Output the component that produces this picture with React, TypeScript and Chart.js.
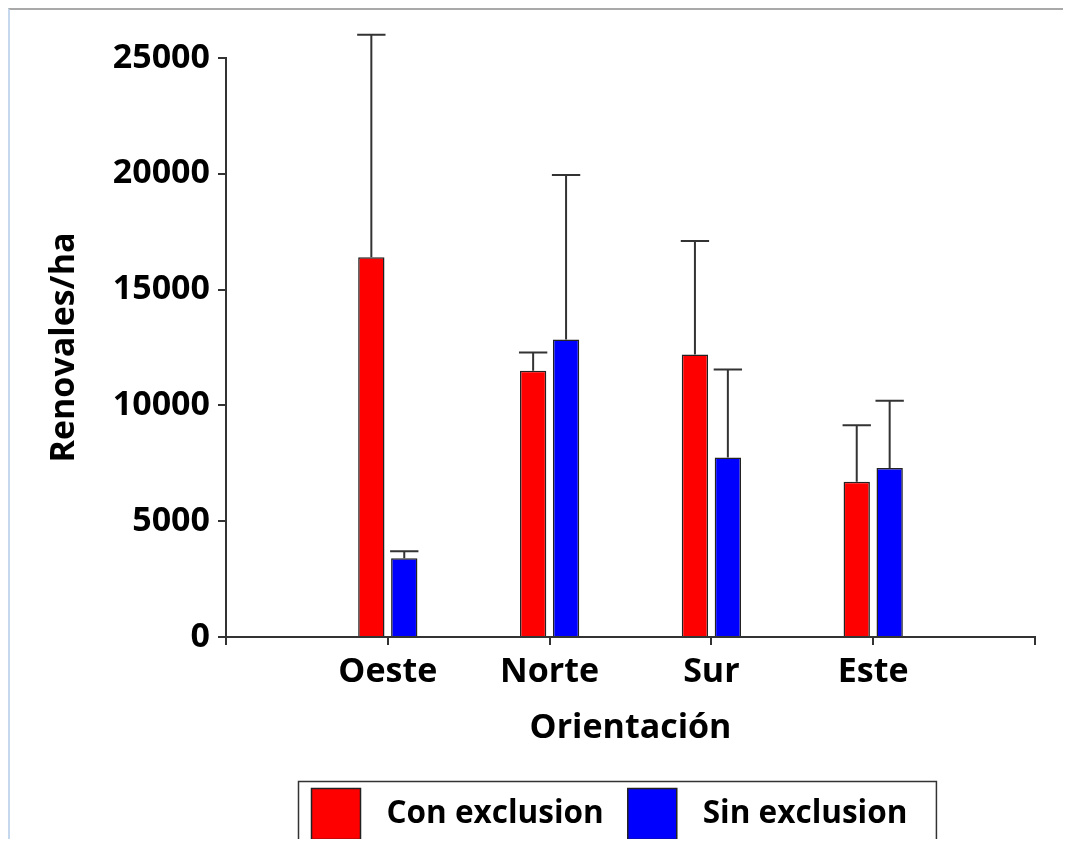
import React, { useEffect, useRef } from "react";
import { Chart, registerables } from "chart.js";

Chart.register(...registerables);

const categories = ["Oeste", "Norte", "Sur", "Este"];
const seriesNames = ["Con exclusion", "Sin exclusion"];
const conExclusion = [16400, 11500, 12200, 6700];
const sinExclusion = [3400, 12850, 7750, 7300];
const conExclusionError = [9600, 780, 4900, 2440];
const sinExclusionError = [300, 7100, 3800, 2900];
const yTicks = [0, 5000, 10000, 15000, 20000, 25000];
const xTitle = "Orientación";
const yTitle = "Renovales/ha";

const FONT = "'Open Sans', 'DejaVu Sans', sans-serif";
const AXIS_COLOR = "#333333";

const pad = (arr: (number | string)[], fill: any) => [fill, ...arr, fill];

const errorBarPlugin = {
  id: "errorBars",
  afterDatasetsDraw(chart: any) {
    const ctx = chart.ctx;
    const yScale = chart.scales.y;
    chart.data.datasets.forEach((ds: any, i: number) => {
      const meta = chart.getDatasetMeta(i);
      meta.data.forEach((el: any, j: number) => {
        const v = ds.data[j];
        const e = ds.errors ? ds.errors[j] : null;
        if (v == null || e == null) return;
        const { x, y, width } = el.getProps(["x", "y", "width"], true);
        const top = yScale.getPixelForValue(v + e);
        ctx.save();
        ctx.strokeStyle = AXIS_COLOR;
        ctx.lineWidth = 2;
        ctx.beginPath();
        ctx.moveTo(x, y);
        ctx.lineTo(x, top);
        ctx.moveTo(x - width / 2 - 1, top);
        ctx.lineTo(x + width / 2 + 1, top);
        ctx.stroke();
        ctx.restore();
      });
    });
  },
};

const legendBoxPlugin = {
  id: "legendBox",
  afterDraw(chart: any) {
    const ctx = chart.ctx;
    const ca = chart.chartArea;
    ctx.save();
    ctx.font = `bold 31.5px ${FONT}`;
    const items = chart.data.datasets.map((ds: any) => ({
      label: ds.label,
      color: ds.backgroundColor,
      w: ctx.measureText(ds.label).width,
    }));
    const padL = 13, sw = 49, sh = 51, gapT = 26, gapI = 24, padR = 29;
    let total = padL + padR;
    items.forEach((it: any, k: number) => {
      total += sw + gapT + it.w + (k > 0 ? gapI : 0);
    });
    const cx = (ca.left + ca.right) / 2 - 14;
    const left = Math.round(cx - total / 2) + 0.5;
    const top = ca.bottom + 144.5;
    const h = 65;
    ctx.strokeStyle = AXIS_COLOR;
    ctx.lineWidth = 1.5;
    ctx.fillStyle = "#ffffff";
    ctx.fillRect(left, top, total, h);
    ctx.strokeRect(left, top, total, h);
    const midY = top + h / 2;
    let x = left + padL;
    items.forEach((it: any, k: number) => {
      if (k > 0) x += gapI;
      ctx.fillStyle = it.color;
      ctx.fillRect(x, midY - sh / 2, sw, sh);
      ctx.strokeStyle = "#222222";
      ctx.lineWidth = 1.5;
      ctx.strokeRect(x, midY - sh / 2, sw, sh);
      x += sw + gapT;
      ctx.fillStyle = "#000000";
      ctx.textBaseline = "middle";
      ctx.textAlign = "left";
      ctx.fillText(it.label, x, midY);
      x += it.w;
    });
    ctx.restore();
  },
};

function BarChart() {
  const canvasRef = useRef<HTMLCanvasElement | null>(null);

  useEffect(() => {
    if (!canvasRef.current) return;
    const labels = pad(categories, "");
    const chart = new Chart(canvasRef.current, {
      type: "bar",
      data: {
        labels,
        datasets: [
          {
            label: seriesNames[0],
            data: pad(conExclusion, null) as any,
            errors: pad(conExclusionError, null),
            backgroundColor: "#ff0000",
            borderColor: "#222222",
            borderWidth: 1.5,
            categoryPercentage: 0.407,
            barPercentage: 0.8,
          } as any,
          {
            label: seriesNames[1],
            data: pad(sinExclusion, null) as any,
            errors: pad(sinExclusionError, null),
            backgroundColor: "#0000ff",
            borderColor: "#222222",
            borderWidth: 1.5,
            categoryPercentage: 0.407,
            barPercentage: 0.8,
          } as any,
        ],
      },
      options: {
        animation: false,
        responsive: true,
        maintainAspectRatio: false,
        layout: { padding: { top: 48, right: 36, left: 0, bottom: 94 } },
        plugins: {
          legend: { display: false },
          tooltip: { enabled: false },
        },
        scales: {
          x: {
            type: "category",
            offset: false,
            grid: {
              offset: false,
              drawOnChartArea: false,
              drawTicks: true,
              tickLength: 8,
              color: AXIS_COLOR,
              lineWidth: 2,
            },
            border: { display: true, color: AXIS_COLOR, width: 2 },
            ticks: {
              color: "#000000",
              padding: 7,
              maxRotation: 0,
              autoSkip: false,
              font: { family: FONT, size: 34, weight: "bold" },
            },
            title: {
              display: true,
              text: xTitle,
              color: "#000000",
              padding: { top: 4, bottom: 4 },
              font: { family: FONT, size: 34, weight: "bold" },
            },
            afterFit: (scale: any) => {
              scale.height = 116;
            },
          },
          y: {
            min: 0,
            max: 25000,
            afterBuildTicks: (scale: any) => {
              scale.ticks = yTicks.map((v) => ({ value: v }));
            },
            grid: {
              drawOnChartArea: false,
              drawTicks: true,
              tickLength: 8,
              color: AXIS_COLOR,
              lineWidth: 2,
            },
            border: { display: true, color: AXIS_COLOR, width: 2 },
            ticks: {
              color: "#000000",
              padding: 8,
              callback: (v: any) => String(v),
              font: { family: FONT, size: 34, weight: "bold" },
            },
            title: {
              display: true,
              text: yTitle,
              color: "#000000",
              padding: { top: 34, bottom: 0 },
              font: { family: FONT, size: 34, weight: "bold" },
            },
            afterFit: (scale: any) => {
              scale.width = 216;
            },
          },
        },
      } as any,
      plugins: [errorBarPlugin, legendBoxPlugin],
    });
    return () => chart.destroy();
  }, []);

  return (
    <div
      style={{
        position: "relative",
        height: 837,
        marginRight: -8,
        marginBottom: -8,
        borderTop: "2px solid #a9a9a9",
        borderLeft: "2px solid #c6d8ee",
        background: "#ffffff",
      }}
    >
      <canvas ref={canvasRef} />
    </div>
  );
}

export default function App() {
  return <BarChart />;
}
